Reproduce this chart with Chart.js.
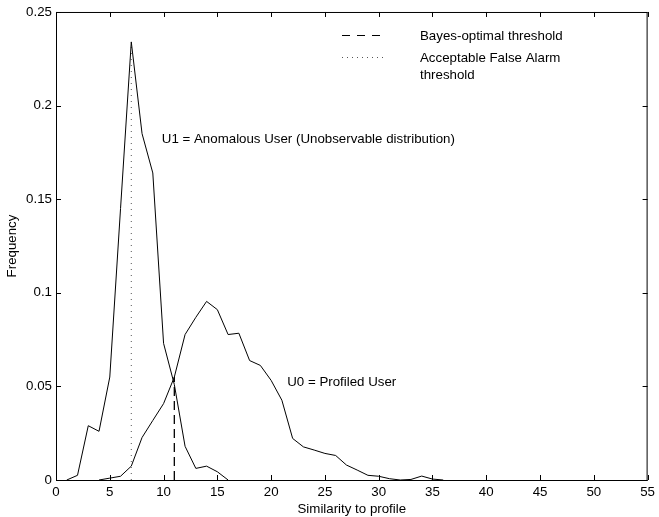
<!DOCTYPE html>
<html>
<head>
<meta charset="utf-8">
<script src="https://cdn.jsdelivr.net/npm/chart.js@4/dist/chart.umd.min.js"></script>
<style>
  body { margin: 0; background: #fff; }
  canvas { display: block; }
</style>
</head>
<body>
<canvas id="canvas" width="659" height="517"></canvas>
<script>
// similarity values (x) and the two frequency curves
var similarity = [1, 2, 3, 4, 5, 6, 7, 8, 9, 10, 11, 12, 13, 14, 15, 16, 17, 18,
  19, 20, 21, 22, 23, 24, 25, 26, 27, 28, 29, 30, 31, 32, 33, 34, 35, 36];
var anomalousU1 = [0, 0.0025, 0.029, 0.026, 0.055, 0.145, 0.234, 0.185, 0.164, 0.073,
  0.051, 0.018, 0.0062, 0.0074, 0.0044, 0, null, null, null, null, null, null, null,
  null, null, null, null, null, null, null, null, null, null, null, null, null];
var profiledU0 = [null, null, null, 0, 0.001, 0.002, 0.0074, 0.0227, 0.0318, 0.0408,
  0.055, 0.0777, 0.0869, 0.0954, 0.091, 0.0777, 0.0784, 0.0638, 0.0612, 0.0532,
  0.0426, 0.0222, 0.0177, 0.016, 0.0142, 0.0131, 0.008, 0.0053, 0.0025, 0.002,
  0.0007, 0, 0.0003, 0.0021, 0.0005, 0];

// thresholds: [acceptable false alarm, bayes-optimal]
var thresholdX = [7, 11];
var thresholdTop = [0.234, 0.055];

var xTickLabels = ['0', '5', '10', '15', '20', '25', '30', '35', '40', '45', '50', '55'];
var yTickLabels = ['0', '0.05', '0.1', '0.15', '0.2', '0.25'];

var FONT = 'Liberation Sans, Arial, Helvetica, sans-serif';
var FONT_SIZE = 13.3;

function toPoints(xs, ys) {
  return xs.map(function (x, i) { return { x: x, y: ys[i] }; });
}

// box around the plot, inward ticks, text labels and the little legend
var boxPlugin = {
  id: 'boxPlugin',
  afterDraw: function (chart) {
    var ctx = chart.ctx;
    var a = chart.chartArea;
    var xs = chart.scales.x;
    var ys = chart.scales.y;
    var tick = 5;

    ctx.save();
    ctx.strokeStyle = '#000';
    ctx.lineWidth = 1;
    ctx.strokeRect(a.left + 0.5, a.top + 0.5, a.right - a.left - 1, a.bottom - a.top);

    ctx.beginPath();
    xs.ticks.forEach(function (t) {
      var px = Math.round(xs.getPixelForValue(t.value)) + 0.5;
      ctx.moveTo(px, a.bottom);
      ctx.lineTo(px, a.bottom - tick);
      ctx.moveTo(px, a.top);
      ctx.lineTo(px, a.top + tick);
    });
    ys.ticks.forEach(function (t) {
      var py = Math.round(ys.getPixelForValue(t.value)) + 0.5;
      ctx.moveTo(a.left, py);
      ctx.lineTo(a.left + tick, py);
      ctx.moveTo(a.right, py);
      ctx.lineTo(a.right - tick, py);
    });
    ctx.stroke();

    ctx.fillStyle = '#000';
    ctx.font = FONT_SIZE + 'px ' + FONT;
    ctx.textBaseline = 'middle';
    ctx.textAlign = 'left';
    ctx.fillText('U1 = Anomalous User (Unobservable distribution)',
      xs.getPixelForValue(9.84), ys.getPixelForValue(0.182));
    ctx.fillText('U0 = Profiled User',
      xs.getPixelForValue(21.5), ys.getPixelForValue(0.052));

    // legend
    ctx.lineWidth = 1.2;
    ctx.setLineDash([8, 7]);
    ctx.beginPath();
    ctx.moveTo(342, 35.5);
    ctx.lineTo(384, 35.5);
    ctx.stroke();
    ctx.strokeStyle = '#555';
    ctx.lineWidth = 1;
    ctx.setLineDash([1, 4]);
    ctx.beginPath();
    ctx.moveTo(342, 57.5);
    ctx.lineTo(384, 57.5);
    ctx.stroke();
    ctx.setLineDash([]);
    ctx.fillText('Bayes-optimal threshold', 420, 36);
    ctx.fillText('Acceptable False Alarm', 420, 58);
    ctx.fillText('threshold', 420, 75);
    ctx.restore();
  }
};

var ctx = document.getElementById('canvas');
var myChart = new Chart(ctx, {
  type: 'line',
  data: {
    datasets: [{
      label: 'U1',
      data: toPoints(similarity, anomalousU1),
      borderColor: '#000',
      borderWidth: 1,
      pointRadius: 0,
      tension: 0,
      spanGaps: false
    }, {
      label: 'U0',
      data: toPoints(similarity, profiledU0),
      borderColor: '#000',
      borderWidth: 1,
      pointRadius: 0,
      tension: 0,
      spanGaps: false
    }, {
      label: 'Acceptable False Alarm threshold',
      data: [{ x: thresholdX[0], y: 0 }, { x: thresholdX[0], y: thresholdTop[0] }],
      borderColor: '#555',
      borderWidth: 1,
      borderDash: [1, 5],
      pointRadius: 0
    }, {
      label: 'Bayes-optimal threshold',
      data: [{ x: thresholdX[1], y: 0 }, { x: thresholdX[1], y: thresholdTop[1] }],
      borderColor: '#000',
      borderWidth: 1.3,
      borderDash: [9, 5],
      pointRadius: 0
    }]
  },
  options: {
    responsive: false,
    animation: false,
    devicePixelRatio: 1,
    layout: {
      padding: { top: 10, right: 7, left: 0, bottom: 0 }
    },
    plugins: {
      legend: { display: false },
      tooltip: { enabled: false }
    },
    scales: {
      x: {
        type: 'linear',
        min: 0,
        max: 55,
        afterFit: function (scale) { scale.height = 37; },
        afterBuildTicks: function (scale) {
          scale.ticks = xTickLabels.map(function (l) { return { value: Number(l) }; });
        },
        ticks: {
          autoSkip: false,
          maxRotation: 0,
          padding: 4,
          color: '#000',
          font: { family: FONT, size: FONT_SIZE },
          callback: function (v, i) { return xTickLabels[i]; }
        },
        grid: { display: false, drawTicks: false },
        border: { display: false },
        title: {
          display: true,
          text: 'Similarity to profile',
          color: '#000',
          font: { family: FONT, size: FONT_SIZE },
          padding: { top: 0, bottom: 0 }
        }
      },
      y: {
        type: 'linear',
        min: 0,
        max: 0.25,
        afterFit: function (scale) { scale.width = 56; },
        afterBuildTicks: function (scale) {
          scale.ticks = yTickLabels.map(function (l) { return { value: Number(l) }; });
        },
        ticks: {
          padding: 4,
          color: '#000',
          font: { family: FONT, size: FONT_SIZE },
          callback: function (v, i) { return yTickLabels[i]; }
        },
        grid: { display: false, drawTicks: false },
        border: { display: false },
        title: {
          display: true,
          text: 'Frequency',
          color: '#000',
          font: { family: FONT, size: FONT_SIZE },
          padding: { top: 4, bottom: 0 }
        }
      }
    }
  },
  plugins: [boxPlugin]
});
</script>
</body>
</html>
